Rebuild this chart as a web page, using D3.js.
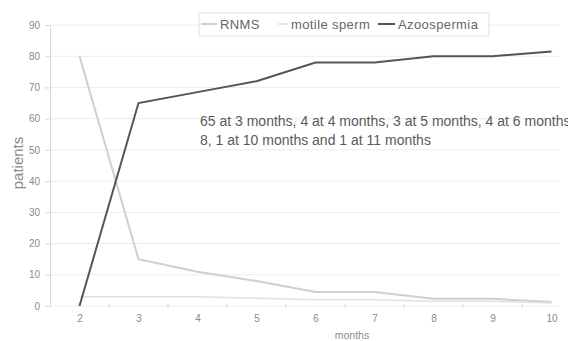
<!DOCTYPE html>
<html>
<head>
<meta charset="utf-8">
<script src="https://cdn.jsdelivr.net/npm/d3@7"></script>
<style>
  body { margin: 0; background: #fff; }
  svg { font-family: "Liberation Sans", Arial, sans-serif; }
</style>
</head>
<body>
<div id="main"></div>
<script>
const ctx = {
    width: 568,
    height: 341
};

// donnees
const months = [2, 3, 4, 5, 6, 7, 8, 9, 10];
const rnms = [80, 15, 11, 8, 4.5, 4.5, 2.3, 2.3, 1.3];
const motileSperm = [3, 3, 3, 2.5, 2, 2, 1.5, 1.5, 1];
const azoospermia = [0, 65, 68.5, 72, 78, 78, 80, 80, 81.5];
const yTicks = [0, 10, 20, 30, 40, 50, 60, 70, 80, 90];
const seriesNames = ["RNMS", "motile sperm", "Azoospermia"];
const note = ["65 at 3 months, 4 at 4 months, 3 at 5 months, 4 at 6 months",
              "8, 1 at 10 months and 1 at 11 months"];

function createViz() {
    let svg = d3.select("#main").append("svg")
        .attr("width", ctx.width)
        .attr("height", ctx.height);

    let x = d3.scaleLinear().domain([1.5, 10.5]).range([50, 581]);
    let y = d3.scaleLinear().domain([0, 90]).range([306, 25]);

    // grille horizontale
    svg.append("g").selectAll("line")
        .data(yTicks)
        .enter().append("line")
        .attr("x1", 50).attr("x2", 560)
        .attr("y1", d => y(d)).attr("y2", d => y(d))
        .attr("stroke", "#ececec")
        .attr("stroke-width", 1);

    // axe y
    let yAxis = svg.append("g")
        .attr("transform", "translate(50,0)")
        .call(d3.axisLeft(y).tickValues(yTicks).tickSize(5).tickPadding(5));
    yAxis.select(".domain").attr("stroke", "#d8d8d8");
    yAxis.selectAll(".tick line").attr("stroke", "#d8d8d8");
    yAxis.selectAll("text").attr("fill", "#8a8a8a").style("font-size", "10px");

    // axe x (ticks entre les categories)
    let xAxis = svg.append("g")
        .attr("transform", "translate(0,306)")
        .call(d3.axisBottom(x).tickValues(months).tickSize(0).tickPadding(9)
            .tickFormat(d3.format("d")));
    xAxis.select(".domain").remove();
    xAxis.selectAll("text").attr("fill", "#8a8a8a").style("font-size", "10px");

    svg.append("g").selectAll("line")
        .data(months.slice(0, -1).map(d => d + 0.5))
        .enter().append("line")
        .attr("x1", d => x(d)).attr("x2", d => x(d))
        .attr("y1", 304).attr("y2", 308)
        .attr("stroke", "#d8d8d8");

    let line = d3.line()
        .x((d, i) => x(months[i]))
        .y(d => y(d));

    const styles = [
        { data: rnms, color: "#cfcfcf", width: 2 },
        { data: motileSperm, color: "#e2e2e2", width: 1.5 },
        { data: azoospermia, color: "#555555", width: 2 }
    ];

    styles.forEach(s => {
        svg.append("path")
            .attr("d", line(s.data))
            .attr("fill", "none")
            .attr("stroke", s.color)
            .attr("stroke-width", s.width);
    });

    // titres des axes
    svg.append("text")
        .attr("transform", "translate(23,163) rotate(-90)")
        .attr("text-anchor", "middle")
        .attr("fill", "#8a8a8a")
        .style("font-size", "15px")
        .text("patients");

    svg.append("text")
        .attr("x", 352).attr("y", 339)
        .attr("text-anchor", "middle")
        .attr("fill", "#8a8a8a")
        .style("font-size", "10.5px")
        .text("months");

    // legende
    let leg = svg.append("g");
    leg.append("rect")
        .attr("x", 199).attr("y", 13)
        .attr("width", 290).attr("height", 23)
        .attr("fill", "#fff")
        .attr("stroke", "#e0e0e0");

    const legPos = [
        { lx: 201, tx: 220 },
        { lx: 278, tx: 291 },
        { lx: 378, tx: 398 }
    ];
    seriesNames.forEach((name, i) => {
        leg.append("line")
            .attr("x1", legPos[i].lx).attr("x2", legPos[i].tx - 3)
            .attr("y1", 24).attr("y2", 24)
            .attr("stroke", styles[i].color)
            .attr("stroke-width", styles[i].width);
        leg.append("text")
            .attr("x", legPos[i].tx).attr("y", 29)
            .attr("fill", "#666")
            .style("font-size", "13px")
            .style("letter-spacing", "0.4px")
            .text(name);
    });

    // annotation
    svg.append("g").selectAll("text")
        .data(note)
        .enter().append("text")
        .attr("x", 200)
        .attr("y", (d, i) => 126 + i * 19)
        .attr("fill", "#5a5a5a")
        .style("font-size", "14px")
        .text(d => d);
}

createViz();
</script>
</body>
</html>
